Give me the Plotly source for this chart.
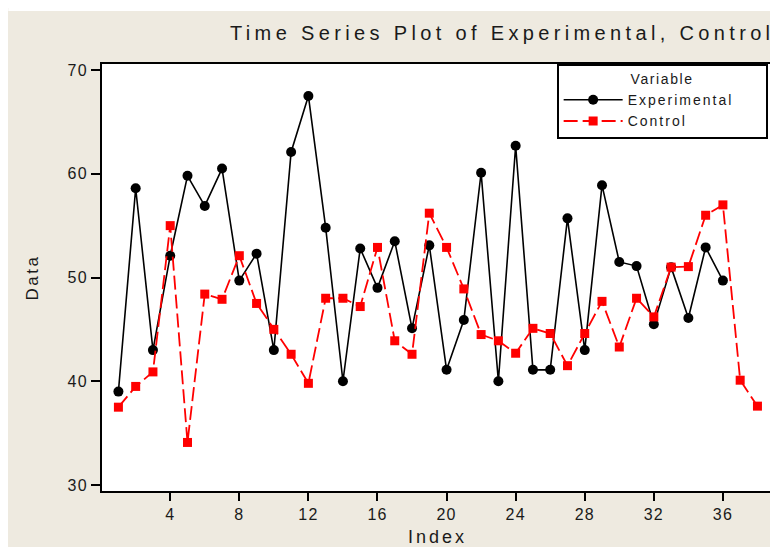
import plotly.graph_objects as go

# ---- data ----
index_exp = list(range(1, 37))
experimental = [39.0, 58.6, 43.0, 52.1, 59.8, 56.9, 60.5, 49.7, 52.3, 43.0,
                62.1, 67.5, 54.8, 40.0, 52.8, 49.0, 53.5, 45.1, 53.1, 41.1,
                45.9, 60.1, 40.0, 62.7, 41.1, 41.1, 55.7, 43.0, 58.9, 51.5,
                51.1, 45.5, 51.0, 46.1, 52.9, 49.7]
index_ctl = list(range(1, 39))
control = [37.5, 39.5, 40.9, 55.0, 34.1, 48.4, 47.9, 52.1, 47.5, 45.0,
           42.6, 39.8, 48.0, 48.0, 47.2, 52.9, 43.9, 42.6, 56.2, 52.9,
           48.9, 44.5, 43.9, 42.7, 45.1, 44.6, 41.5, 44.6, 47.7, 43.3,
           48.0, 46.2, 51.0, 51.05, 56.0, 57.0, 40.1, 37.6]
x_ticks = [4, 8, 12, 16, 20, 24, 28, 32, 36]
y_ticks = [30, 40, 50, 60, 70]
title_text = "Time Series Plot of Experimental, Control"

FONT = "Liberation Sans"
BEIGE = "#EEEAE0"
TXT = "#1a1a1a"

W, H = 770, 539
ML, MR, MT, MB = 94, 3, 56, 56
PW, PH = W - ML - MR, H - MT - MB


def sp(s, ls=1.5):
    return f'<span style="letter-spacing:{ls}px">{s}</span>'


fig = go.Figure()
fig.add_trace(go.Scatter(
    x=index_exp, y=experimental, mode="lines+markers",
    name=sp("Experimental", 2.0) + "&nbsp;" * 7,
    line=dict(color="black", width=1.6),
    marker=dict(symbol="circle", size=10, color="black"),
))
fig.add_trace(go.Scatter(
    x=index_ctl, y=control, mode="lines+markers",
    name=sp("Control", 2.0),
    line=dict(color="#FF0000", width=1.8, dash="14px,5px"),
    marker=dict(symbol="square", size=9, color="#FF0000"),
))

fig.update_layout(
    width=W, height=H,
    paper_bgcolor=BEIGE, plot_bgcolor="white",
    margin=dict(l=ML, r=MR, t=MT, b=MB),
    font=dict(family=FONT, color=TXT),
    title=dict(
        text=sp(title_text, 4.35),
        xref="container", x=222 / W, xanchor="left",
        yref="container", y=1 - 24.5 / H, yanchor="middle",
        font=dict(size=20, family=FONT, color=TXT),
    ),
    showlegend=True,
    legend=dict(
        x=(550 - ML) / PW, xanchor="left", y=1, yanchor="top",
        bgcolor="white", bordercolor="black", borderwidth=2,
        font=dict(size=14, family=FONT, color=TXT),
        itemwidth=59,
        title=dict(text=sp("Variable", 1.6), side="top center",
                   font=dict(size=14, family=FONT, color=TXT)),
    ),
    xaxis=dict(
        range=[0.05, 38.9],
        tickvals=x_ticks, ticktext=[sp(str(t), 1.2) for t in x_ticks],
        ticks="outside", ticklen=8, tickwidth=1.5, tickcolor="black",
        showline=True, linewidth=2, linecolor="black", mirror=True,
        showgrid=False, zeroline=False,
        tickfont=dict(size=16, family=FONT, color=TXT),
        title=dict(text=sp("Index", 3), standoff=8,
                   font=dict(size=18, family=FONT, color=TXT)),
    ),
    yaxis=dict(
        range=[29.42, 70.58],
        tickvals=y_ticks, ticktext=[sp(str(t), 1.2) for t in y_ticks],
        ticks="outside", ticklen=9, tickwidth=1.5, tickcolor="black",
        showline=True, linewidth=2, linecolor="black", mirror=True,
        showgrid=False, zeroline=False,
        tickfont=dict(size=16, family=FONT, color=TXT),
        title=dict(text=sp("Data", 2.5), standoff=25,
                   font=dict(size=17, family=FONT, color=TXT)),
    ),
)
# thin white strip along the top edge
fig.add_shape(type="rect", xref="paper", yref="paper",
              x0=-ML / PW, x1=(W - ML) / PW, y0=1 + (MT - 3) / PH, y1=1 + MT / PH,
              fillcolor="white", line=dict(width=0), layer="below")

fig.write_html("out.html")
